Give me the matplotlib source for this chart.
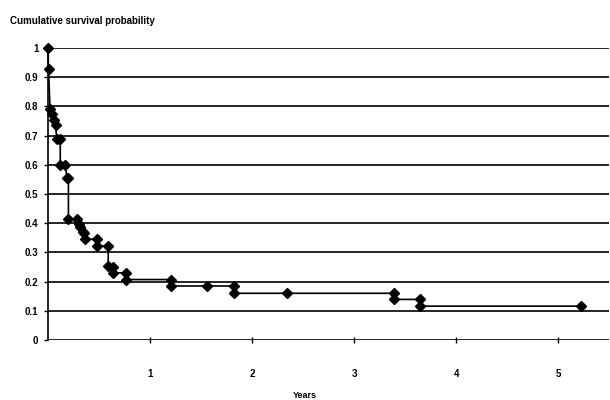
import numpy as np
import matplotlib
matplotlib.use("Agg")
import matplotlib.pyplot as plt

plt.rcParams['font.family'] = ['Liberation Sans', 'DejaVu Sans']

# survival curve points (step drawn as explicit pairs, markers on each)
years = [0.0, 0.005, 0.02, 0.04, 0.06, 0.075, 0.085, 0.12, 0.12, 0.17, 0.185,
         0.2, 0.2, 0.28, 0.3, 0.315, 0.34, 0.355, 0.36, 0.48, 0.48, 0.59,
         0.59, 0.635, 0.64, 0.765, 0.765, 1.21, 1.21, 1.56, 1.82, 1.82,
         2.34, 3.39, 3.39, 3.65, 3.65, 5.22]
surv = [1.0, 0.928, 0.79, 0.775, 0.755, 0.735, 0.69, 0.69, 0.60, 0.60, 0.554,
        0.554, 0.414, 0.414, 0.397, 0.388, 0.371, 0.365, 0.345, 0.345, 0.322, 0.322,
        0.253, 0.251, 0.23, 0.23, 0.207, 0.207, 0.185, 0.185, 0.185, 0.16,
        0.16, 0.16, 0.139, 0.139, 0.116, 0.116]

yticks = [0, 0.1, 0.2, 0.3, 0.4, 0.5, 0.6, 0.7, 0.8, 0.9, 1]
ylabels = ['0', '0.1', '0.2', '0.3', '0.4', '0.5', '0.6', '0.7', '0.8', '0.9', '1']
xticks = [1, 2, 3, 4, 5]

fig = plt.figure(figsize=(6.1, 4.0), dpi=100)
ax = fig.add_axes([0.0787, 0.15, 0.92, 0.73])

for yv in yticks:
    ax.axhline(yv, color='black', lw=1.2, zorder=1)

ax.plot(years, surv, color='black', lw=1.2, marker='D', markersize=5.2,
        markerfacecolor='black', markeredgecolor='black', zorder=3, clip_on=False)

ax.set_xlim(0, 5.5)
ax.set_ylim(0, 1)
for s in ['top', 'right', 'bottom']:
    ax.spines[s].set_visible(False)
ax.spines['left'].set_linewidth(1.2)

ax.set_yticks(yticks)
ax.set_yticklabels(ylabels, fontsize=7, fontweight='bold')
ax.tick_params(axis='y', length=3, width=1, direction='out', pad=4)

ax.set_xticks(xticks)
ax.set_xticklabels([str(v) for v in xticks], fontsize=7, fontweight='bold')
ax.tick_params(axis='x', length=4, width=1, direction='inout', pad=19)

fig.text(0.016, 0.948, 'Cumulative survival probability', fontsize=7,
         fontweight='bold', ha='left', va='center')
fig.text(0.5, 0.012, 'Years', fontsize=6.5, fontweight='bold', ha='center', va='center')

fig.savefig('out.png', dpi=100)
